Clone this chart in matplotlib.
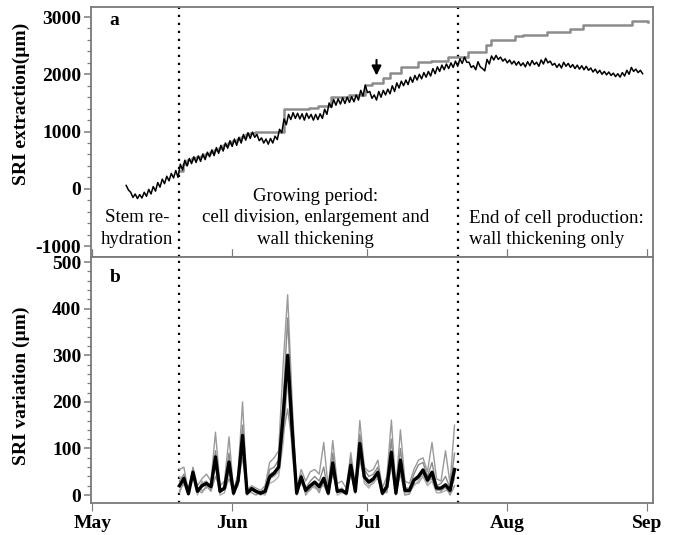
import numpy as np
import matplotlib
matplotlib.use("Agg")
import matplotlib.pyplot as plt
from matplotlib.ticker import MultipleLocator

plt.rcParams['font.family'] = ['Liberation Serif', 'DejaVu Serif']
plt.rcParams['axes.unicode_minus'] = False

# x axis: days since 1 May
month_days = [0, 31, 61, 92, 123]
month_labels = ["May", "Jun", "Jul", "Aug", "Sep"]
period_bounds = [19.3, 81.0]

# panel a: stem radius (SRI) extraction, daily maximum and minimum (um)
sri_first_day = 7.5
sri_day_high = [
    60, -60, -90, -100, -60, -10, 40, 110, 170, 220,
    270, 320, 430, 500, 530, 560, 575, 610, 640, 680,
    720, 760, 800, 840, 870, 900, 950, 980, 990, 950,
    890, 870, 880, 920, 1040, 1220, 1300, 1330, 1320, 1310,
    1320, 1300, 1300, 1310, 1390, 1500, 1560, 1570, 1590, 1600,
    1610, 1640, 1720, 1810, 1700, 1640, 1700, 1720, 1740, 1800,
    1850, 1880, 1900, 1950, 1980, 2000, 2030, 2050, 2100, 2130,
    2160, 2180, 2200, 2230, 2270, 2300, 2210, 2150, 2220, 2100,
    2260, 2320, 2330, 2300, 2270, 2250, 2230, 2220, 2200, 2220,
    2240, 2210, 2250, 2280, 2230, 2190, 2180, 2210, 2190, 2170,
    2160, 2150, 2140, 2110, 2090, 2070, 2050, 2040, 2020, 2010,
    2030, 2070, 2120, 2090, 2070,
]
sri_day_low = [
    -20, -150, -170, -160, -130, -90, -40, 30, 90, 140,
    190, 200, 330, 400, 440, 460, 480, 510, 560, 580,
    620, 660, 710, 740, 760, 800, 850, 880, 900, 840,
    800, 780, 800, 860, 980, 1120, 1210, 1230, 1220, 1200,
    1230, 1200, 1210, 1230, 1300, 1420, 1460, 1480, 1490, 1510,
    1520, 1550, 1620, 1680, 1580, 1550, 1600, 1640, 1660, 1700,
    1760, 1800, 1820, 1860, 1900, 1920, 1950, 1970, 2010, 2050,
    2080, 2100, 2120, 2140, 2190, 2210, 2120, 2080, 2130, 2060,
    2180, 2250, 2260, 2230, 2200, 2180, 2160, 2150, 2130, 2150,
    2170, 2140, 2180, 2200, 2160, 2120, 2110, 2140, 2120, 2100,
    2090, 2080, 2070, 2040, 2020, 2000, 1990, 1980, 1960, 1950,
    1970, 2000, 2050, 2030, 2010,
]

# panel a: cumulative growth (stair line)
step_days = [19.3, 20, 21, 22, 23, 24, 25, 26, 27, 28, 29, 30, 31, 32, 33,
             34, 35, 36, 42.4, 45, 48, 50, 52.8, 57, 60.4, 62, 64.4, 66,
             68.4, 72.2, 75, 78.8, 83.2, 87.2, 88.3, 93.7, 95.5, 100.8,
             105.9, 108.8, 119.7, 123.3]
step_values = [320, 430, 500, 530, 560, 575, 610, 640, 680, 720, 760, 800,
               840, 870, 900, 950, 980, 990, 1390, 1400, 1420, 1440, 1600,
               1630, 1810, 1840, 1930, 2017, 2122, 2209, 2240, 2296, 2383,
               2504, 2591, 2661, 2678, 2736, 2794, 2852, 2939, 2920]

# panel b: daily SRI variation per tree (grey) and mean (black)
var_first_day = 19.3
tree_1 = [55, 60, 5, 60, 20, 35, 45, 30, 135, 20, 30, 125, 10, 45, 200, 12, 20, 15, 10, 20,
          70, 80, 95, 280, 430, 200, 10, 55, 30, 50, 55, 45, 113, 15, 117, 25, 30, 15, 91, 20,
          160, 60, 50, 55, 75, 15, 40, 161, 12, 140, 30, 25, 55, 75, 80, 50, 113, 35, 30, 95,
          25, 150]
tree_2 = [30, 45, 10, 55, 5, 25, 30, 10, 95, 5, 20, 90, 0, 35, 150, 5, 15, 10, 5, 10,
          55, 60, 75, 200, 380, 170, 5, 40, 15, 30, 40, 30, 60, 5, 90, 10, 15, 5, 80, 10,
          130, 55, 40, 45, 60, 5, 25, 120, 5, 100, 15, 15, 45, 65, 70, 40, 70, 20, 25, 40,
          15, 90]
tree_3 = [10, 25, 0, 40, 15, 10, 15, 25, 60, 0, 5, 50, 5, 20, 110, 0, 10, 5, 0, 5,
          35, 40, 50, 150, 300, 120, 0, 30, 5, 10, 25, 10, 25, 0, 55, 5, 8, 0, 55, 5,
          100, 30, 20, 25, 40, 0, 10, 80, 0, 60, 5, 5, 20, 30, 45, 25, 40, 10, 10, 15,
          5, 45]
tree_4 = [40, 20, 15, 45, 0, 30, 20, 15, 75, 10, 15, 60, 2, 25, 100, 3, 18, 8, 3, 0,
          25, 30, 40, 110, 250, 90, 8, 25, 10, 20, 15, 15, 20, 2, 60, 0, 5, 3, 50, 3,
          90, 25, 15, 30, 35, 3, 15, 60, 3, 50, 8, 10, 25, 25, 40, 20, 30, 5, 5, 10,
          8, 35]
tree_5 = [5, 30, 2, 50, 10, 5, 20, 8, 40, 15, 10, 35, 8, 30, 80, 10, 5, 0, 8, 12,
          45, 50, 60, 130, 185, 110, 2, 45, 0, 15, 20, 5, 35, 8, 45, 12, 10, 8, 45, 8,
          75, 35, 25, 30, 50, 8, 5, 70, 8, 45, 0, 2, 30, 35, 50, 30, 35, 15, 8, 20,
          0, 20]
tree_mean = [20, 36, 3, 49, 8, 20, 25, 18, 82, 8, 15, 71, 4, 30, 128, 4, 14, 8, 4, 8,
             39, 47, 60, 170, 300, 140, 4, 39, 10, 20, 28, 18, 36, 4, 69, 8, 10, 4, 64, 8,
             111, 39, 28, 35, 49, 4, 18, 92, 4, 75, 10, 10, 32, 40, 54, 32, 49, 15, 15, 22,
             10, 55]

# interleave day max and night min into one trace
n_days = len(sri_day_high)
sri_x = np.empty(2 * n_days)
sri_y = np.empty(2 * n_days)
sri_x[0::2] = sri_first_day + np.arange(n_days)
sri_x[1::2] = sri_first_day + np.arange(n_days) + 0.5
sri_y[0::2] = sri_day_high
sri_y[1::2] = sri_day_low

var_x = var_first_day + np.arange(len(tree_mean))

W, H = 675, 535
fig = plt.figure(figsize=(W / 100, H / 100), dpi=100)
ax_a = fig.add_axes([91 / W, 1 - 257 / H, 562 / W, 250 / H])
ax_b = fig.add_axes([91 / W, 1 - 503 / H, 562 / W, 246 / H])

spine_col = "#7a7a7a"
for ax in (ax_a, ax_b):
    for s in ax.spines.values():
        s.set_color(spine_col)
        s.set_linewidth(1.3)
    ax.set_xlim(-0.3, 124.3)
    ax.set_xticks(month_days)
    ax.tick_params(axis='y', which='both', direction='out', colors=spine_col,
                   labelcolor='black', labelsize=14, pad=2)
    ax.tick_params(axis='y', which='major', length=5, width=1.1)
    ax.tick_params(axis='y', which='minor', length=3, width=0.9)
    for xd in period_bounds:
        ax.axvline(xd, color='black', lw=1.6, linestyle=(0, (1, 2.6)), zorder=1)

# panel a
ax_a.step(step_days, step_values, where='post', color='#8c8c8c', lw=1.8, zorder=2)
ax_a.plot(sri_x, sri_y, color='black', lw=1.1, zorder=3)
ax_a.set_ylim(-1190, 3175)
ax_a.set_yticks([-1000, 0, 1000, 2000, 3000])
ax_a.yaxis.set_minor_locator(MultipleLocator(200))
ax_a.tick_params(axis='x', direction='in', length=6, colors=spine_col, labelbottom=False)
for lab in ax_a.get_yticklabels():
    lab.set_fontweight('bold')

ax_a.annotate('', xy=(63, 1930), xytext=(63, 2300),
              arrowprops=dict(arrowstyle='-|>', color='black', lw=1.5, mutation_scale=14))

txt = dict(fontsize=13.6, color='black', va='center')
ax_a.text(3.8, 2940, "a", fontweight='bold', fontsize=14, va='center')
ax_a.text(10, -504, "Stem re-", ha='center', **txt)
ax_a.text(10, -887, "hydration", ha='center', **txt)
ax_a.text(49.5, -139, "Growing period:", ha='center', **txt)
ax_a.text(49.5, -504, "cell division, enlargement and", ha='center', **txt)
ax_a.text(49.5, -887, "wall thickening", ha='center', **txt)
ax_a.text(83.4, -504, "End of cell production:", ha='left', **txt)
ax_a.text(83.4, -887, "wall thickening only", ha='left', **txt)

# panel b
for tree, col in zip([tree_1, tree_2, tree_3, tree_4, tree_5],
                     ['#9a9a9a', '#8a8a8a', '#a8a8a8', '#b0b0b0', '#969696']):
    ax_b.plot(var_x, tree, color=col, lw=1.0, zorder=2)
ax_b.plot(var_x, tree_mean, color='black', lw=2.4, zorder=3)
ax_b.set_ylim(-17, 511)
ax_b.set_yticks([0, 100, 200, 300, 400, 500])
ax_b.yaxis.set_minor_locator(MultipleLocator(20))
ax_b.set_xticklabels(month_labels, fontweight='bold', fontsize=14)
ax_b.tick_params(axis='x', which='both', direction='out', length=6, colors=spine_col,
                 labelcolor='black', top=True, pad=3)
for lab in ax_b.get_yticklabels():
    lab.set_fontweight('bold')
ax_b.text(3.8, 466, "b", fontweight='bold', fontsize=14, va='center')

fig.text(21 / W, 1 - 104 / H, "SRI extraction(\u00b5m)", rotation=90, ha='center',
         va='center', fontsize=14, fontweight='bold')
fig.text(21 / W, 1 - 386 / H, "SRI variation (\u00b5m)", rotation=90, ha='center',
         va='center', fontsize=14, fontweight='bold')

fig.savefig("out.png", dpi=100)
